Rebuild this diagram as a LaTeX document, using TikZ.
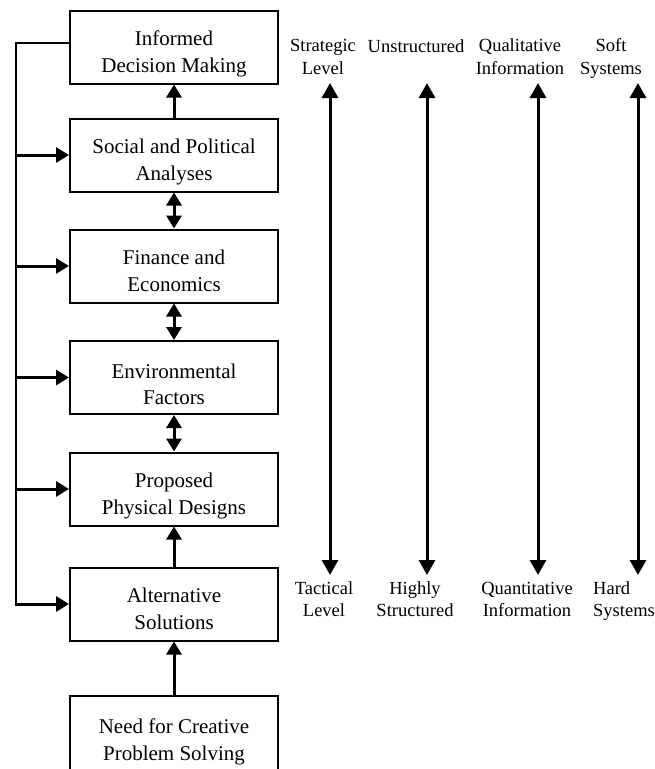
\documentclass[tikz,border=0pt]{standalone}
\usepackage{fontspec}
\setmainfont{Liberation Serif}
\usetikzlibrary{arrows.meta}
\begin{document}
\begin{tikzpicture}[x=1pt,y=-1pt,
  box/.style={draw, line width=2pt, minimum width=208pt, minimum height=73pt, inner sep=0pt},
  boxtxt/.style={align=center, font=\fontsize{21}{26.5}\selectfont, inner sep=0pt, yshift=-7pt},
  lab/.style={align=center, font=\fontsize{18.5}{22.5}\selectfont, inner sep=0pt},
  arr/.style={line width=3pt, -{Triangle[width=15pt,length=13pt]}},
  darr/.style={line width=3pt, {Triangle[width=15pt,length=13pt]}-{Triangle[width=15pt,length=13pt]}},
  bigarr/.style={line width=3pt, {Triangle[width=16pt,length=15pt]}-{Triangle[width=16pt,length=15pt]}},
  feed/.style={line width=2pt}
]
\clip (0,0) rectangle (655,769);
\node[box, label={[boxtxt]center:{Informed\\Decision Making}}] (b1) at (174,47) {};
\node[box, label={[boxtxt]center:{Social and Political\\Analyses}}] (b2) at (174,155) {};
\node[box, label={[boxtxt, yshift=2pt]center:{Finance and\\Economics}}] (b3) at (174,266) {};
\node[box, label={[boxtxt]center:{Environmental\\Factors}}] (b4) at (174,377.5) {};
\node[box, label={[boxtxt]center:{Proposed\\Physical Designs}}] (b5) at (174,489) {};
\node[box, label={[boxtxt, yshift=2pt]center:{Alternative\\Solutions}}] (b6) at (174,604) {};
\node[box, minimum height=88pt, label={[boxtxt, yshift=5pt]center:{Need for Creative\\Problem Solving}}] (b7) at (174,740) {};

\draw[arr] (b2) -- (b1);
\draw[darr] (b2) -- (b3);
\draw[darr] (b3) -- (b4);
\draw[darr] (b4) -- (b5);
\draw[arr] (b6) -- (b5);
\draw[arr] (b7) -- (b6);

\coordinate (lx) at (16,0);
\coordinate (top) at ([yshift=4pt]b1.west);
\draw[feed] (top) -| (lx |- b6.west);
\draw[arr] ([xshift=-1pt]lx |- b6.west) -- (b6.west);
\draw[arr] (lx |- b2.west) -- (b2.west);
\draw[arr] (lx |- b3.west) -- (b3.west);
\draw[arr] (lx |- b4.west) -- (b4.west);
\draw[arr] (lx |- b5.west) -- (b5.west);

\node[lab] (s1) at (323,58.5) {\strut Strategic\\Level\strut};
\node[lab, anchor=base] (s2) at (416,52) {Unstructured};
\node[lab] (s3) at (520,58.5) {\strut Qualitative\\Information\strut};
\node[lab] (s4) at (611,58.5) {\strut Soft\\Systems\strut};

\node[lab] (h1) at (324,601) {\strut Tactical\\Level\strut};
\node[lab] (h2) at (415,601) {\strut Highly\\Structured\strut};
\node[lab] (h3) at (527,601) {\strut Quantitative\\Information\strut};
\node[lab, align=left, anchor=west] (h4) at (593,601) {\strut Hard\\Systems\strut};

\coordinate (t1) at (330,83);  \coordinate (u1) at (330,575);
\coordinate (t2) at (427,83);  \coordinate (u2) at (427,575);
\coordinate (t3) at (538,83);  \coordinate (u3) at (538,575);
\coordinate (t4) at (638,83);  \coordinate (u4) at (638,575);
\draw[bigarr] (t1) -- (u1);
\draw[bigarr] (t2) -- (u2);
\draw[bigarr] (t3) -- (u3);
\draw[bigarr] (t4) -- (u4);
\end{tikzpicture}
\end{document}
